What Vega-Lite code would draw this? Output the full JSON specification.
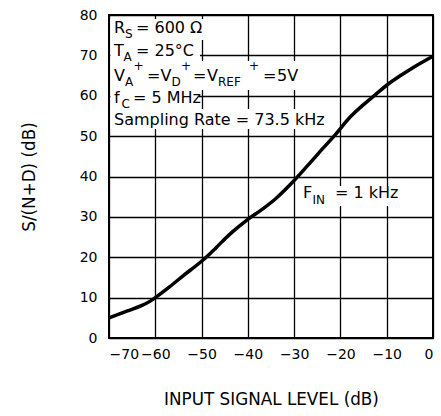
{
  "$schema": "https://vega.github.io/schema/vega-lite/v6.json",
  "width": 324,
  "height": 323,
  "autosize": "none",
  "padding": {"left": 109, "top": 15, "right": 8, "bottom": 78},
  "config": {
    "font": "DejaVu Sans",
    "view": {"stroke": "black", "strokeWidth": 2},
    "axis": {
      "gridColor": "black", "gridOpacity": 1, "gridWidth": 1.3,
      "domain": false, "ticks": false,
      "labelColor": "black", "labelFontSize": 14, "labelFont": "DejaVu Sans",
      "titleColor": "black", "titleFontSize": 16.8, "titleFontWeight": "normal", "titleFont": "DejaVu Sans"
    }
  },
  "datasets": {
    "curve": [
      {"level": -70, "snd": 5.0}, {"level": -66, "snd": 6.7}, {"level": -63, "snd": 8.0},
      {"level": -61, "snd": 9.2}, {"level": -60, "snd": 10.0}, {"level": -57, "snd": 12.6},
      {"level": -54, "snd": 15.4}, {"level": -50, "snd": 19.0}, {"level": -47, "snd": 22.2},
      {"level": -44, "snd": 25.6}, {"level": -40, "snd": 29.4}, {"level": -37, "snd": 31.8},
      {"level": -34, "snd": 34.5}, {"level": -30, "snd": 39.0}, {"level": -27, "snd": 42.8},
      {"level": -24, "snd": 46.7}, {"level": -21, "snd": 50.5}, {"level": -18, "snd": 54.6},
      {"level": -15, "snd": 57.8}, {"level": -12, "snd": 60.7}, {"level": -10, "snd": 62.6},
      {"level": -7, "snd": 65.0}, {"level": -4, "snd": 67.2}, {"level": 0, "snd": 69.8}
    ],
    "boxes": [
      {"x1": -69.7, "x2": -49.05, "y1": 79.01, "y2": 73.81},
      {"x1": -69.7, "x2": -50.35, "y1": 73.81, "y2": 68.61},
      {"x1": -69.7, "x2": -28.53, "y1": 68.61, "y2": 61.42},
      {"x1": -69.7, "x2": -50.56, "y1": 61.42, "y2": 56.72},
      {"x1": -69.7, "x2": -21.40, "y1": 56.72, "y2": 51.76},
      {"x1": -28.75, "x2": -7.15, "y1": 37.65, "y2": 32.69}
    ],
    "notes": [
      {"level": -68.92, "snd": 75.54, "t": "R", "role": "main"},
      {"level": -66.54, "snd": 74.30, "t": "S", "role": "script"},
      {"level": -64.17, "snd": 75.54, "t": "= 600 Ω", "role": "main"},
      {"level": -68.92, "snd": 69.85, "t": "T", "role": "main"},
      {"level": -66.87, "snd": 68.61, "t": "A", "role": "script"},
      {"level": -64.17, "snd": 69.85, "t": "= 25°C", "role": "main"},
      {"level": -68.92, "snd": 63.65, "t": "V", "role": "main"},
      {"level": -66.54, "snd": 62.41, "t": "A", "role": "script"},
      {"level": -64.71, "snd": 66.50, "t": "+", "role": "script"},
      {"level": -61.79, "snd": 63.65, "t": "=", "role": "main"},
      {"level": -58.88, "snd": 63.65, "t": "V", "role": "main"},
      {"level": -56.50, "snd": 62.41, "t": "D", "role": "script"},
      {"level": -54.45, "snd": 66.50, "t": "+", "role": "script"},
      {"level": -51.86, "snd": 63.65, "t": "=", "role": "main"},
      {"level": -48.83, "snd": 63.65, "t": "V", "role": "main"},
      {"level": -46.46, "snd": 62.41, "t": "REF", "role": "script"},
      {"level": -39.76, "snd": 66.50, "t": "+", "role": "script"},
      {"level": -36.74, "snd": 63.65, "t": "=", "role": "main"},
      {"level": -33.71, "snd": 63.65, "t": "5V", "role": "main"},
      {"level": -68.92, "snd": 58.20, "t": "f", "role": "main"},
      {"level": -67.30, "snd": 56.97, "t": "C", "role": "script"},
      {"level": -64.82, "snd": 58.20, "t": "= 5 MHz", "role": "main"},
      {"level": -68.92, "snd": 52.76, "t": "Sampling Rate = 73.5 kHz", "role": "main"},
      {"level": -28.10, "snd": 34.67, "t": "F", "role": "main"},
      {"level": -26.05, "snd": 33.19, "t": "IN", "role": "script"},
      {"level": -21.19, "snd": 34.67, "t": "= 1 kHz", "role": "main"}
    ]
  },
  "layer": [
    {
      "data": {"name": "boxes"},
      "mark": {"type": "rect", "color": "white", "opacity": 1},
      "encoding": {
        "x": {"field": "x1", "type": "quantitative", "scale": {"domain": [-70, 0], "nice": false},
              "axis": {"values": [-70, -60, -50, -40, -30, -20, -10, 0], "title": "INPUT SIGNAL LEVEL (dB)", "labelPadding": 9, "titlePadding": 30}},
        "x2": {"field": "x2"},
        "y": {"field": "y1", "type": "quantitative", "scale": {"domain": [0, 80], "nice": false},
              "axis": {"values": [0, 10, 20, 30, 40, 50, 60, 70, 80], "title": "S/(N+D) (dB)", "labelPadding": 12, "titlePadding": 41}},
        "y2": {"field": "y2"}
      }
    },
    {
      "data": {"name": "notes"},
      "mark": {"type": "text", "align": "left", "baseline": "alphabetic", "fill": "black"},
      "encoding": {
        "x": {"field": "level", "type": "quantitative"},
        "y": {"field": "snd", "type": "quantitative"},
        "text": {"field": "t"},
        "size": {"field": "role", "type": "ordinal", "scale": {"domain": ["main", "script"], "range": [16, 12]}, "legend": null}
      }
    },
    {
      "data": {"name": "curve"},
      "mark": {"type": "line", "color": "black", "strokeWidth": 3.5, "interpolate": "monotone"},
      "encoding": {
        "x": {"field": "level", "type": "quantitative"},
        "y": {"field": "snd", "type": "quantitative"}
      }
    }
  ]
}
